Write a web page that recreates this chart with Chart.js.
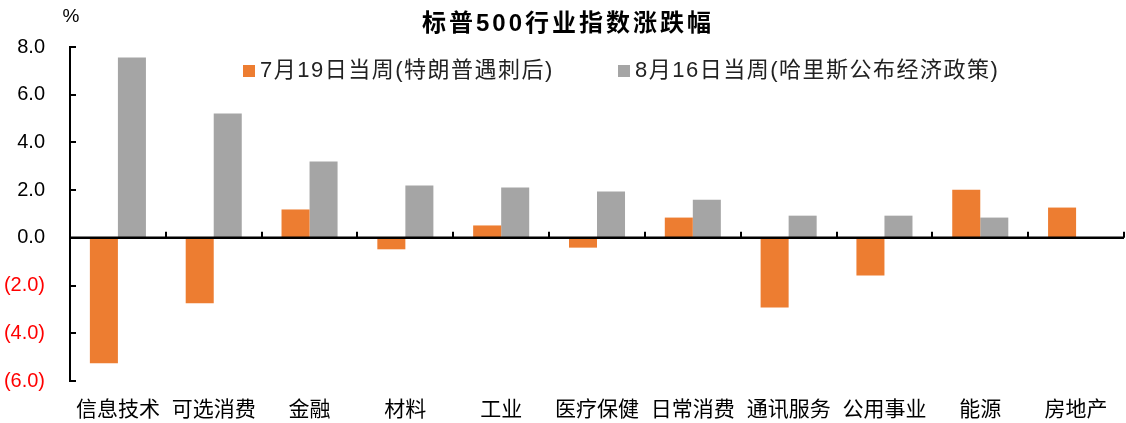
<!DOCTYPE html>
<html>
<head>
<meta charset="utf-8">
<script src="https://cdn.jsdelivr.net/npm/chart.js@4/dist/chart.umd.min.js"></script>
<style>
  html, body { margin: 0; padding: 0; background: #fff; }
  #wrap { width: 1126px; height: 423px; }
</style>
</head>
<body>
<div id="wrap"><canvas id="chart" width="1126" height="423"></canvas></div>
<script>
// data
const categories = ['信息技术', '可选消费', '金融', '材料', '工业', '医疗保健', '日常消费', '通讯服务', '公用事业', '能源', '房地产'];
const week0719 = [-5.26, -2.74, 1.19, -0.48, 0.52, -0.41, 0.85, -2.92, -1.58, 2.02, 1.27];
const week0816 = [7.56, 5.21, 3.2, 2.19, 2.11, 1.94, 1.6, 0.93, 0.93, 0.85, null];
const seriesNames = ['7月19日当周(特朗普遇刺后)', '8月16日当周(哈里斯公布经济政策)'];
const titleText = '标普500行业指数涨跌幅';
const yTicks = [-6, -4, -2, 0, 2, 4, 6, 8];

const CJK = '"Liberation Sans", Arial, "Noto Sans CJK SC", sans-serif';

function fmt(v) {
    const s = Math.abs(v).toFixed(1);
    return v < 0 ? '(' + s + ')' : s;
}

// title, % unit, legend, zero line and the small ticks
const decor = {
    id: 'decor',
    afterDraw(chart) {
        const ctx = chart.ctx;
        const area = chart.chartArea;
        const y = chart.scales.y;
        ctx.save();

        // zero line
        const y0 = y.getPixelForValue(0);
        ctx.strokeStyle = '#000';
        ctx.lineWidth = 2.5;
        ctx.beginPath();
        ctx.moveTo(area.left, y0);
        ctx.lineTo(area.right, y0);
        ctx.stroke();

        // category ticks on zero line
        ctx.lineWidth = 2;
        for (let i = 1; i <= categories.length; i++) {
            const px = Math.round(area.left + (area.right - area.left) * i / categories.length);
            ctx.beginPath();
            ctx.moveTo(px, y0);
            ctx.lineTo(px, y0 - 6);
            ctx.stroke();
        }
        // y ticks
        yTicks.forEach(v => {
            const py = Math.round(y.getPixelForValue(v));
            ctx.beginPath();
            ctx.moveTo(area.left, py);
            ctx.lineTo(area.left + 6, py);
            ctx.stroke();
        });

        // title
        ctx.fillStyle = '#000';
        ctx.textBaseline = 'middle';
        ctx.textAlign = 'center';
        ctx.font = 'bold 24px ' + CJK;
        ctx.letterSpacing = '3px';
        ctx.fillText(titleText, 568, 24);

        // unit
        ctx.letterSpacing = '0px';
        ctx.font = '19px ' + CJK;
        ctx.fillText('%', 71, 17);

        // legend
        ctx.textAlign = 'left';
        ctx.font = '22px ' + CJK;
        ctx.letterSpacing = '1.5px';
        const legendX = [243, 618];
        chart.data.datasets.forEach((ds, i) => {
            ctx.fillStyle = ds.backgroundColor;
            ctx.fillRect(legendX[i], 65, 12, 12);
            ctx.fillStyle = '#222';
            ctx.fillText(ds.label, legendX[i] + 17, 71);
        });
        ctx.restore();
    }
};

new Chart(document.getElementById('chart'), {
    type: 'bar',
    data: {
        labels: categories,
        datasets: [
            { label: seriesNames[0], data: week0719, backgroundColor: '#ED7D31' },
            { label: seriesNames[1], data: week0816, backgroundColor: '#A5A5A5' }
        ]
    },
    options: {
        responsive: false,
        animation: false,
        devicePixelRatio: 1,
        categoryPercentage: 0.585,
        barPercentage: 1,
        layout: { padding: { top: 47, right: 2, left: 0, bottom: 0 } },
        plugins: {
            legend: { display: false },
            title: { display: false },
            tooltip: { enabled: false }
        },
        scales: {
            x: {
                grid: { display: false, drawTicks: false },
                border: { display: false },
                ticks: {
                    color: '#000',
                    font: { family: CJK, size: 21 },
                    padding: 17,
                    maxRotation: 0,
                    autoSkip: false
                },
                afterFit(scale) { scale.height = 42; }
            },
            y: {
                min: -6,
                max: 8,
                grid: { display: false, drawTicks: false },
                border: { display: true, color: '#000', width: 2 },
                ticks: {
                    stepSize: 2,
                    padding: 25,
                    font: { family: CJK, size: 20 },
                    color: ctx => ctx.tick.value < 0 ? '#FF0000' : '#000',
                    callback: v => fmt(v)
                },
                afterFit(scale) { scale.width = 70; }
            }
        }
    },
    plugins: [decor]
});
</script>
</body>
</html>
